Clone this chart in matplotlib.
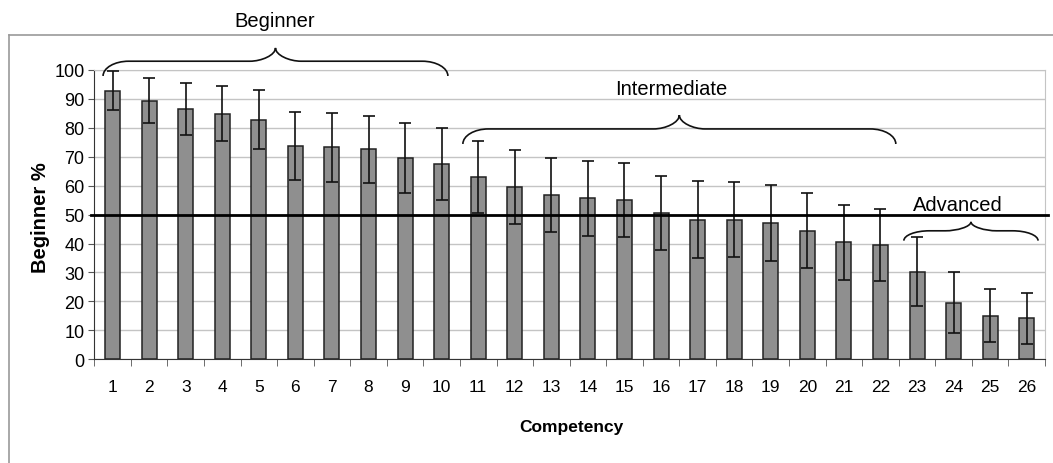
import numpy as np
import matplotlib.pyplot as plt
from matplotlib.path import Path
from matplotlib.patches import PathPatch
from matplotlib.lines import Line2D

plt.rcParams['font.family'] = ['Liberation Sans', 'DejaVu Sans']

competency = list(range(1, 27))
beginner_pct = [92.8, 89.4, 86.6, 84.9, 82.8, 73.6, 73.2, 72.5, 69.6, 67.4,
                63.0, 59.5, 56.8, 55.6, 55.1, 50.7, 48.3, 48.3, 47.1, 44.5,
                40.4, 39.4, 30.3, 19.6, 15.1, 14.1]
std_err = [6.7, 7.8, 9.0, 9.4, 10.1, 11.7, 11.8, 11.7, 12.1, 12.4,
           12.5, 12.9, 12.8, 13.0, 12.8, 12.8, 13.3, 12.9, 13.0, 13.0,
           12.9, 12.4, 11.9, 10.6, 9.1, 8.8]

# groups: label, first x, last x, brace end y, brace bar y, brace tip y, text x, text y
groups = [
    ('Beginner', 0.74, 10.17, 97.9, 103.0, 107.6, 5.42, 115.3),
    ('Intermediate', 10.58, 22.42, 74.4, 79.6, 84.4, 16.28, 91.7),
    ('Advanced', 22.64, 26.31, 41.0, 44.4, 47.5, 24.12, 51.6),
]
threshold = 50


def draw_brace(ax, x0, x1, y_end, y_h, y_tip, r=0.7):
    xm = (x0 + x1) / 2
    dy = y_h - y_end
    dt = y_tip - y_h
    verts = [
        (x0, y_end),
        (x0, y_end + 0.55 * dy), (x0 + 0.45 * r, y_h), (x0 + r, y_h),
        (xm - r, y_h),
        (xm - 0.55 * r, y_h), (xm, y_h + 0.45 * dt), (xm, y_tip),
        (xm, y_h + 0.45 * dt), (xm + 0.55 * r, y_h), (xm + r, y_h),
        (x1 - r, y_h),
        (x1 - 0.45 * r, y_h), (x1, y_end + 0.55 * dy), (x1, y_end),
    ]
    codes = [Path.MOVETO,
             Path.CURVE4, Path.CURVE4, Path.CURVE4,
             Path.LINETO,
             Path.CURVE4, Path.CURVE4, Path.CURVE4,
             Path.CURVE4, Path.CURVE4, Path.CURVE4,
             Path.LINETO,
             Path.CURVE4, Path.CURVE4, Path.CURVE4]
    patch = PathPatch(Path(verts, codes), facecolor='none', edgecolor='#111111',
                      lw=1.2, clip_on=False, zorder=5)
    ax.add_patch(patch)


fig = plt.figure(figsize=(10.53, 4.64), dpi=100)
ax = fig.add_axes([94.3 / 1053, 1 - 360.3 / 464, (1045 - 94.3) / 1053, 289.4 / 464])

ax.bar(competency, beginner_pct, width=0.41, color='#8f8f8f', edgecolor='#222222',
       linewidth=1.1, zorder=3)
ax.errorbar(competency, beginner_pct, yerr=std_err, fmt='none', ecolor='#111111',
            elinewidth=1.2, capsize=4.3, capthick=1.2, zorder=4)

ax.set_xlim(0.5, 26.5)
ax.set_ylim(0, 100)
ax.set_yticks(np.arange(0, 101, 10))
ax.set_xticks(competency)
ax.set_xticks(np.arange(0.5, 27, 1), minor=True)
ax.tick_params(axis='x', which='major', length=0, pad=14, labelsize=12.5)
ax.tick_params(axis='x', which='minor', length=5, color='#555555', direction='out')
ax.tick_params(axis='y', length=4, color='#555555', pad=3, labelsize=13)

ax.grid(axis='y', color='#c4c4c4', linewidth=1.0, zorder=0)
ax.set_axisbelow(True)
for side in ['top', 'right']:
    ax.spines[side].set_color('#c4c4c4')
for side in ['left', 'bottom']:
    ax.spines[side].set_color('#333333')

# threshold line, a little past both edges
ax.plot([0.4, 26.58], [threshold, threshold], color='black', lw=2.0,
        clip_on=False, zorder=6)

for label, x0, x1, ye, yh, yt, tx, ty in groups:
    draw_brace(ax, x0, x1, ye, yh, yt)
    ax.text(tx, ty, label, ha='center', va='baseline', fontsize=14.5, clip_on=False)

fig.text(40 / 1053, 1 - 218 / 464, 'Beginner %', rotation=90, ha='center', va='center',
         fontsize=14.5, fontweight='bold')
fig.text(571 / 1053, 1 - 428 / 464, 'Competency', ha='center', va='center',
         fontsize=12.5, fontweight='bold')

# outer frame (top and left edges only)
fig.add_artist(Line2D([9 / 1053, 1.0], [1 - 35.7 / 464, 1 - 35.7 / 464],
                      transform=fig.transFigure, color='#9a9a9a', lw=1.2))
fig.add_artist(Line2D([9 / 1053, 9 / 1053], [0, 1 - 35.7 / 464],
                      transform=fig.transFigure, color='#9a9a9a', lw=1.2))

fig.savefig('out.png', dpi=100)
